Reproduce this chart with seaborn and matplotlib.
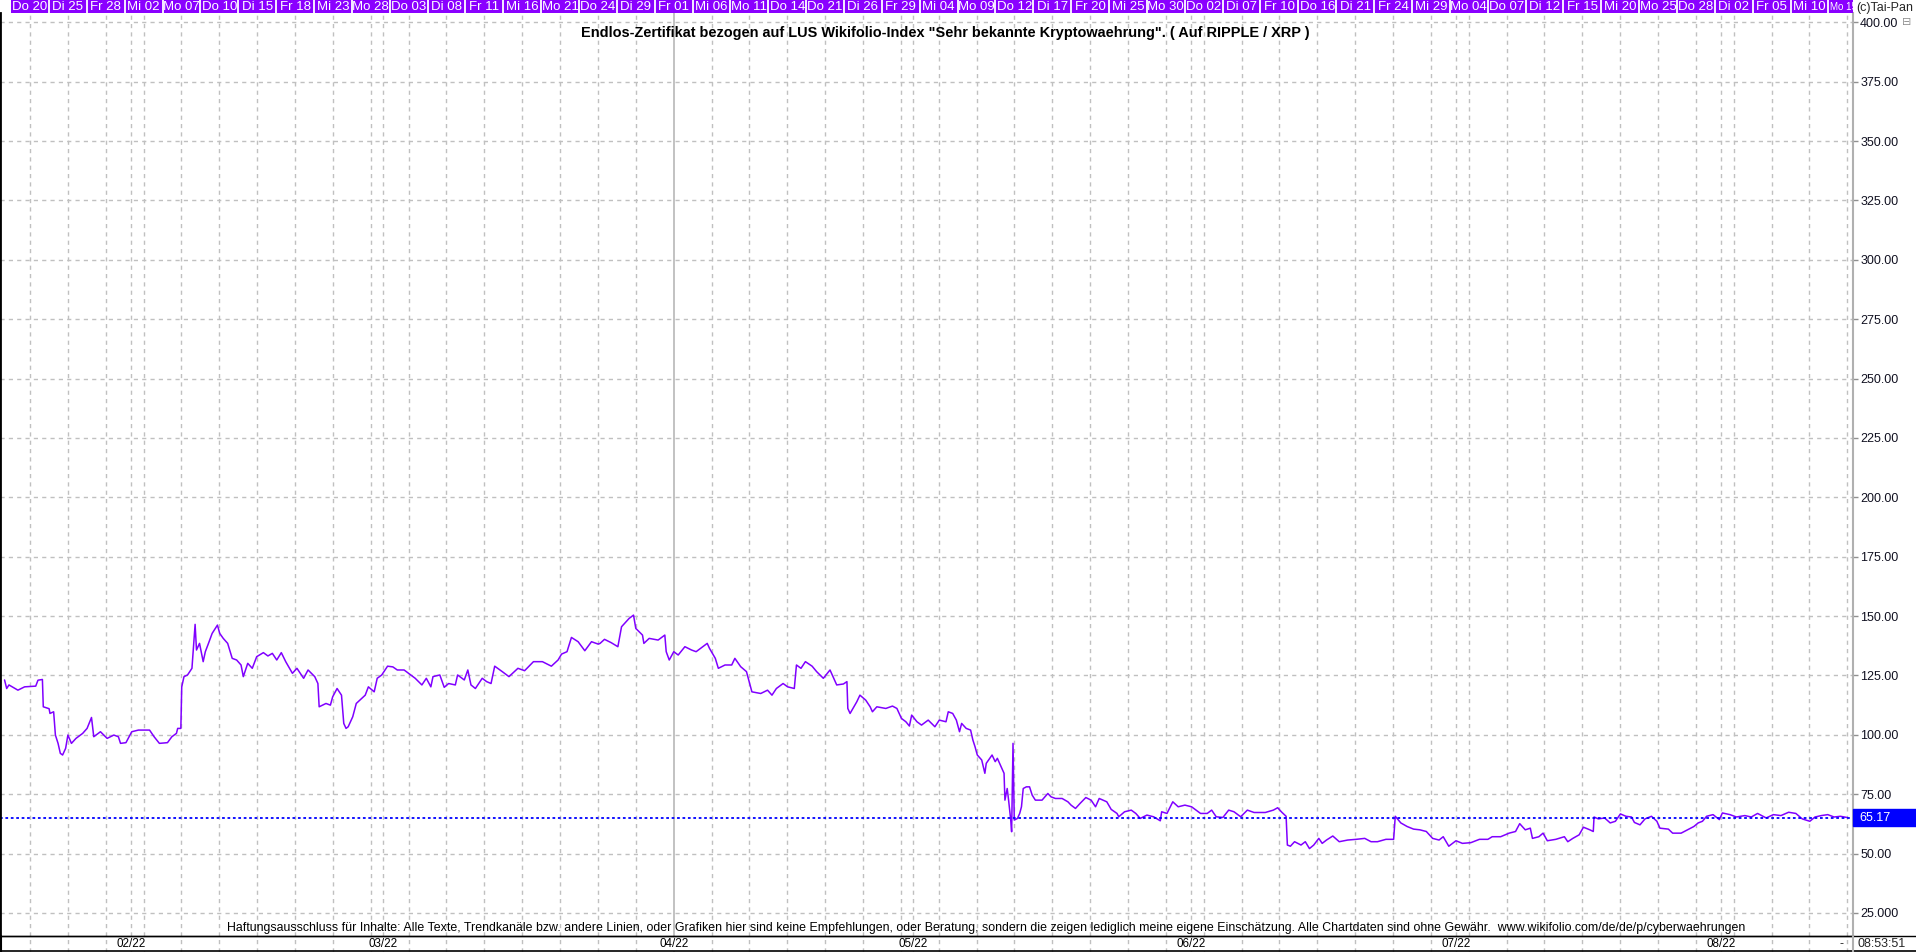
import matplotlib
matplotlib.use("Agg")
import pandas as pd
import seaborn as sns
from matplotlib import pyplot as plt
from matplotlib import transforms
from matplotlib.lines import Line2D
from matplotlib.patches import Rectangle

# trading day index (0 = Do 20.01.2022) and price of the certificate
days = [
    -2.02, -1.85, -1.67, -0.96, -0.43, 0.45, 0.63, 0.98, 1.05, 1.51,
    1.58, 1.87, 2.01, 2.22, 2.40, 2.58, 2.82, 3.00, 3.28, 3.64,
    4.17, 4.52, 4.87, 5.05, 5.58, 6.11, 6.64, 7.00, 7.17, 7.60,
    8.06, 8.59, 9.47, 9.83, 10.25, 10.89, 11.24, 11.60, 11.70, 11.95,
    12.02, 12.20, 12.48, 12.83, 12.97, 13.08, 13.19, 13.43, 13.72, 13.89,
    14.14, 14.43, 14.60, 14.85, 15.03, 15.31, 15.66, 16.02, 16.37, 16.72,
    16.90, 17.25, 17.61, 17.96, 18.49, 18.85, 19.20, 19.55, 19.91, 20.26,
    20.79, 21.15, 21.68, 22.03, 22.56, 22.81, 22.91, 23.45, 23.80, 23.98,
    24.33, 24.68, 24.86, 25.04, 25.21, 25.57, 25.85, 26.27, 26.56, 26.81,
    27.27, 27.51, 27.87, 28.33, 28.75, 29.10, 29.64, 29.99, 30.52, 31.05,
    31.40, 31.76, 31.93, 32.47, 32.82, 33.17, 33.70, 33.88, 34.41, 34.69,
    34.94, 35.29, 35.83, 36.18, 36.53, 36.82, 37.42, 37.95, 38.66, 39.19,
    39.89, 40.60, 41.31, 41.84, 42.12, 42.55, 42.90, 43.43, 43.96, 44.49,
    45.02, 45.17, 45.52, 46.05, 46.58, 46.87, 47.47, 47.82, 48.00, 48.53,
    48.64, 49.06, 49.77, 50.30, 50.41, 50.65, 51.01, 51.36, 51.89, 52.42,
    52.78, 53.13, 53.66, 53.84, 54.30, 54.54, 55.07, 55.60, 55.85, 56.31,
    56.77, 56.95, 57.20, 57.90, 58.44, 58.79, 59.14, 59.67, 60.03, 60.56,
    60.73, 61.09, 61.44, 61.97, 62.33, 62.86, 63.39, 63.92, 64.45, 64.73,
    64.80, 64.98, 65.51, 65.76, 66.22, 66.57, 66.75, 67.10, 67.81, 68.34,
    68.69, 69.05, 69.40, 69.68, 69.86, 70.28, 70.64, 71.17, 71.70, 72.05,
    72.58, 72.76, 73.11, 73.40, 73.65, 73.82, 74.18, 74.53, 74.71, 74.88,
    75.06, 75.41, 75.66, 75.77, 76.23, 76.48, 76.65, 76.94, 77.18, 77.25,
    77.43, 77.54, 77.71, 77.78, 77.89, 77.99, 78.24, 78.42, 78.56, 78.70,
    78.95, 79.20, 79.41, 79.66, 80.19, 80.65, 80.90, 81.25, 81.78, 82.24,
    82.49, 82.84, 83.20, 83.66, 84.08, 84.43, 84.72, 85.32, 85.67, 86.13,
    86.27, 86.73, 87.26, 87.62, 87.97, 88.50, 89.03, 89.56, 89.67, 90.09,
    90.55, 90.98, 91.51, 92.04, 92.75, 93.28, 93.63, 93.99, 94.52, 94.98,
    95.40, 95.93, 96.46, 96.99, 97.88, 98.52, 98.86, 99.19, 99.53, 99.63,
    99.87, 100.20, 100.71, 101.05, 101.38, 101.72, 102.12, 102.39, 102.73, 103.23,
    103.74, 104.41, 105.08, 105.76, 106.26, 106.77, 107.44, 108.05, 108.18, 108.62,
    109.12, 109.63, 110.13, 110.64, 111.14, 111.65, 111.98, 112.42, 112.99, 113.50,
    114.17, 114.85, 115.52, 115.86, 116.53, 117.20, 117.71, 118.04, 118.48, 118.88,
    119.05, 119.56, 119.89, 120.23, 120.90, 121.58, 121.85, 122.25, 122.75, 123.09,
    123.60, 123.87, 123.93, 124.27, 124.77, 125.21, 125.62, 126.02, 126.46, 126.90,
    127.13, 127.57, 127.97, 128.48, 128.91, 129.15, 129.82, 130.16, 130.83, 131.34,
    131.84, 132.18, 132.52, 132.85, 133.36, 133.86, 134.10, 134.70, 135.21, 135.88,
    136.39, 136.89, 137.57, 138.14, 138.74, 139.35, 139.92, 140.43, 141.03, 141.44,
    141.94, 142.45, 142.95, 143.46, 144.00,
]
prices = [
    123.1, 119.5, 121.0, 118.8, 120.2, 120.5, 123.0, 123.3, 111.8, 111.0,
    109.0, 109.7, 99.9, 96.4, 92.2, 91.5, 94.3, 99.9, 96.4, 98.5,
    100.6, 102.7, 107.3, 99.2, 101.3, 98.5, 99.9, 99.2, 96.4, 96.7,
    101.3, 102.0, 102.0, 99.2, 96.4, 96.7, 99.2, 100.6, 102.7, 102.7,
    120.2, 124.5, 125.2, 128.0, 138.5, 146.5, 135.7, 138.5, 130.8, 135.0,
    138.5, 142.7, 144.1, 146.2, 142.7, 140.6, 138.5, 132.2, 131.5, 129.4,
    124.5, 130.1, 128.0, 132.9, 134.6, 133.2, 134.3, 131.5, 134.6, 130.8,
    125.9, 128.0, 123.8, 127.3, 124.5, 121.6, 111.8, 113.2, 112.5, 116.0,
    119.5, 116.7, 104.8, 102.7, 103.4, 107.6, 113.2, 115.3, 116.7, 120.2,
    118.1, 123.8, 125.2, 128.9, 128.6, 127.3, 127.3, 125.9, 123.8, 121.0,
    123.8, 120.2, 124.5, 125.2, 120.0, 121.6, 121.0, 125.2, 123.1, 127.3,
    121.0, 119.5, 123.8, 122.4, 121.6, 128.9, 126.6, 124.5, 128.0, 127.0,
    130.8, 130.8, 128.9, 131.5, 134.0, 135.0, 141.0, 139.2, 135.4, 139.2,
    138.2, 138.5, 140.2, 138.8, 137.1, 145.5, 149.0, 150.4, 144.8, 142.0,
    138.5, 140.6, 139.9, 142.0, 135.0, 131.5, 135.0, 133.6, 137.1, 135.7,
    135.0, 136.4, 138.5, 136.4, 132.2, 128.0, 129.4, 129.4, 132.2, 128.7,
    126.6, 123.1, 118.1, 117.4, 118.8, 116.7, 119.5, 121.6, 120.2, 119.5,
    129.4, 128.0, 130.8, 128.9, 126.6, 123.8, 127.3, 121.0, 121.4, 122.4,
    111.1, 109.0, 113.9, 116.7, 114.6, 111.8, 109.7, 111.8, 111.1, 112.1,
    111.1, 106.9, 105.5, 103.7, 108.3, 105.5, 104.1, 106.2, 103.4, 106.2,
    105.5, 109.7, 109.0, 106.2, 101.3, 104.8, 102.7, 102.0, 97.8, 95.0,
    91.5, 89.4, 83.8, 88.0, 91.5, 88.7, 90.1, 86.6, 83.8, 72.5,
    77.4, 72.5, 64.1, 59.2, 96.4, 64.1, 64.8, 66.9, 69.7, 77.4,
    78.1, 78.1, 74.6, 72.5, 72.5, 75.3, 73.9, 73.2, 73.2, 71.8,
    70.4, 69.0, 71.1, 73.6, 72.5, 69.7, 73.2, 71.8, 68.6, 66.9,
    65.5, 67.6, 68.3, 66.9, 64.8, 66.2, 65.5, 63.8, 67.6, 66.9,
    71.8, 69.7, 70.4, 69.7, 66.9, 66.9, 68.3, 65.5, 65.2, 68.3,
    67.6, 65.5, 68.3, 67.3, 67.3, 68.3, 69.3, 67.4, 65.7, 53.6,
    53.1, 55.0, 53.6, 55.0, 52.1, 53.6, 56.4, 54.3, 55.7, 57.4,
    55.0, 55.7, 56.0, 56.4, 55.0, 55.0, 56.0, 56.0, 65.7, 62.9,
    61.4, 60.3, 60.0, 59.3, 56.4, 55.7, 57.1, 53.1, 55.4, 54.3,
    54.6, 56.0, 56.0, 57.1, 57.1, 58.6, 59.3, 62.6, 60.0, 60.7,
    56.4, 57.1, 58.6, 55.4, 56.0, 57.1, 55.0, 56.4, 57.9, 61.1,
    60.0, 59.3, 65.4, 64.6, 65.0, 62.9, 63.6, 66.7, 65.7, 65.4,
    63.1, 62.1, 64.6, 65.7, 63.6, 60.7, 60.3, 58.6, 58.6, 60.0,
    61.4, 62.9, 63.6, 65.7, 66.4, 64.3, 67.1, 66.4, 65.4, 66.0,
    65.4, 66.9, 65.0, 66.4, 66.0, 67.4, 66.9, 64.6, 63.6, 65.4,
    66.0, 66.4, 65.4, 65.7, 65.17,
]
last_price = 65.17

# labels of the date bar on top, one every 3 trading days
day_labels = [
    "Do 20", "Di 25", "Fr 28", "Mi 02", "Mo 07", "Do 10", "Di 15", "Fr 18", "Mi 23", "Mo 28",
    "Do 03", "Di 08", "Fr 11", "Mi 16", "Mo 21", "Do 24", "Di 29", "Fr 01", "Mi 06", "Mo 11",
    "Do 14", "Do 21", "Di 26", "Fr 29", "Mi 04", "Mo 09", "Do 12", "Di 17", "Fr 20", "Mi 25",
    "Mo 30", "Do 02", "Di 07", "Fr 10", "Do 16", "Di 21", "Fr 24", "Mi 29", "Mo 04", "Do 07",
    "Di 12", "Fr 15", "Mi 20", "Mo 25", "Do 28", "Di 02", "Fr 05", "Mi 10", "Mo 15",
]
# first trading day of each month
month_days = [8, 28, 51, 70, 92, 113, 134]
month_labels = ["02/22", "03/22", "04/22", "05/22", "06/22", "07/22", "08/22"]
y_ticks = [25, 50, 75, 100, 125, 150, 175, 200, 225, 250, 275, 300, 325, 350, 375, 400]
y_labels = ["25.000"] + [f"{v:.2f}" for v in y_ticks[1:]]

title = ('Endlos-Zertifikat bezogen auf LUS Wikifolio-Index "Sehr bekannte Kryptowaehrung". '
         '( Auf RIPPLE / XRP )')
disclaimer = ("Haftungsausschluss für Inhalte: Alle Texte, Trendkanäle bzw. andere Linien, oder Grafiken "
              "hier sind keine Empfehlungen, oder Beratung, sondern die zeigen lediglich meine eigene "
              "Einschätzung. Alle Chartdaten sind ohne Gewähr.  www.wikifolio.com/de/de/p/cyberwaehrungen")

LINE = "#8000FF"
BAND = "#8A00FF"
BLUE = "#0000FF"
GRID = "#C0C0C0"

sns.set_style("white")
plt.rcParams['font.family'] = ['Liberation Sans', 'DejaVu Sans']

W, H = 1916, 952
fig = plt.figure(figsize=(W / 100, H / 100), dpi=100)
ax = fig.add_axes([0, 16 / H, 1853 / W, 923 / H])

df = pd.DataFrame({'day': days, 'price': prices})
sns.lineplot(data=df, x='day', y='price', ax=ax, color=LINE, lw=1.1,
             estimator=None, sort=False)

ax.set_xlim(-2.38, 144.45)
ax.set_ylim(15.3, 403.9)
ax.set_xlabel('')
ax.set_ylabel('')

# grid: every 3rd trading day and month starts, April in solid grey
grid_days = sorted(set(range(0, 145, 3)) | set(month_days))
ax.set_xticks([d for d in grid_days if d != 51])
ax.set_xticklabels([])
ax.tick_params(axis='x', length=0)
ax.axvline(51, color="#B8B8B8", lw=1.2, zorder=0.5)
ax.grid(True, color=GRID, linestyle=(0, (3, 3)), linewidth=1)
ax.set_axisbelow(True)

ax.yaxis.tick_right()
ax.set_yticks(y_ticks)
ax.set_yticklabels(y_labels)
ax.tick_params(axis='y', direction='out', length=3.6, width=1, color="#909090",
               pad=1.5, labelsize=9.0, labelcolor="#101020")

ax.spines['top'].set_visible(False)
ax.spines['right'].set_color("#B0B0B0")
ax.spines['right'].set_linewidth(1.5)
ax.spines['left'].set_color("black")
ax.spines['left'].set_linewidth(2)
ax.spines['bottom'].set_color("black")
ax.spines['bottom'].set_linewidth(1)

# last price marker
ax.axhline(last_price, color=BLUE, linestyle=(0, (1.5, 1.5)), lw=1.3)
blend = transforms.blended_transform_factory(ax.transAxes, ax.transData)
ax.add_patch(Rectangle((1.0, last_price - 3.4), 0.035, 6.8, transform=blend,
                       color=BLUE, clip_on=False, zorder=5))
ax.text(1.0035, last_price, f"{last_price:.2f}", transform=blend, color='white',
        fontsize=9.0, ha='left', va='center', zorder=6)

# bottom row with month labels, grid continues through it
axm = fig.add_axes([0, 0, 1853 / W, 16 / H])
axm.set_xlim(ax.get_xlim())
axm.set_ylim(0, 1)
axm.axis('off')
for d in grid_days:
    if d == 51:
        axm.axvline(d, color="#B8B8B8", lw=1.2)
    else:
        axm.axvline(d, color=GRID, linestyle=(0, (3, 3)), lw=1)
for d, lab in zip(month_days, month_labels):
    axm.text(d, 0.47, lab, ha='center', va='center', fontsize=8.4, color='black',
             bbox=dict(boxstyle='square,pad=0.05', fc='white', ec='none'))

# date bar on top
axb = fig.add_axes([0, 1 - 13 / H, 1853 / W, 13 / H])
axb.set_xlim(ax.get_xlim())
axb.set_ylim(0, 1)
axb.axis('off')
axb.axvspan(-1.5, 146, color=BAND, lw=0)
for i, lab in enumerate(day_labels):
    d = 3 * i
    axb.axvline(d + 1.5, color='white', lw=1.3)
    if i == len(day_labels) - 1:
        # last box is cut by the price axis, keep its label inside
        axb.text(d - 1.4, 0.45, lab, ha='left', va='center', color='white', fontsize=7.0)
    else:
        axb.text(d, 0.45, lab, ha='center', va='center', color='white', fontsize=9.5)

fig.text(945 / W, 1 - 33 / H, title, ha='center', va='center', fontsize=10.45,
         weight='bold', color='black')
fig.text(986 / W, 1 - 928 / H, disclaimer, ha='center', va='center',
         fontsize=8.9, color='black')
fig.text(1856 / W, 1 - 8 / H, "(c)Tai-Pan", ha='left', va='center', fontsize=9.0)
fig.text(1907 / W, 1 - 22 / H, "⊟", ha='center', va='center', fontsize=8,
         color="#909090", family=['DejaVu Sans'])
fig.text(1858 / W, 1 - 944 / H, "08:53:51", ha='left', va='center', fontsize=9.0)
fig.text(1842 / W, 1 - 944 / H, "-", ha='center', va='center', fontsize=9.0)

fig.add_artist(Line2D([0, 1], [16 / H, 16 / H], color='black', lw=1))
fig.add_artist(Line2D([0, 1], [0.6 / H, 0.6 / H], color='black', lw=1.2))
fig.add_artist(Line2D([0.5 / W, 0.5 / W], [0, 16 / H], color='black', lw=1.5))
fig.add_artist(Line2D([1853 / W, 1853 / W], [0, 16 / H], color="#B0B0B0", lw=1.5))

fig.savefig("out.png", dpi=100)
